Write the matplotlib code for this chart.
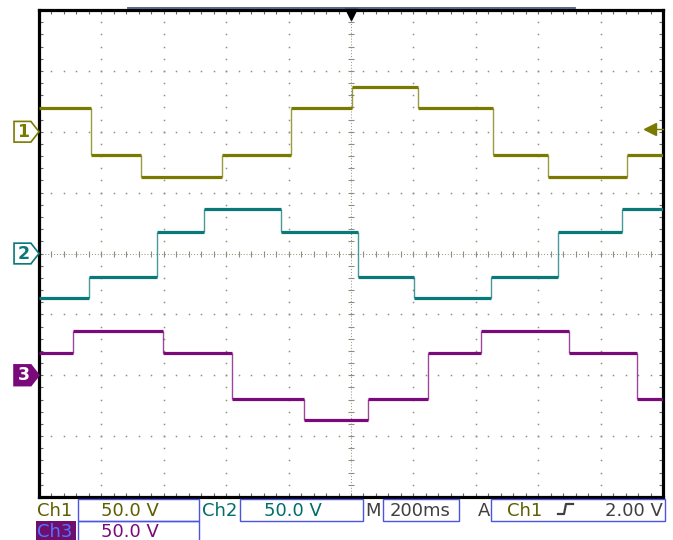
import matplotlib
matplotlib.use("Agg")
import matplotlib.pyplot as plt
from matplotlib.patches import Polygon, Rectangle
import numpy as np

# screen setup
ms_per_div = 200
volts_per_div = 50.0
n_xdiv = 10
n_ydiv = 8

# ground reference of each channel (divisions from screen centre)
ch1_offset = 2.0
ch2_offset = 0.0
ch3_offset = -2.0

# step edges (ms) and levels (V)
ch1_edges = [0, 167, 327, 587, 808, 1003, 1215, 1455, 1631, 1885, 2000]
ch1_levels = [19.7, -18.9, -36.9, -18.9, 19.7, 36.9, 19.7, -18.9, -36.9, -18.9]

ch2_edges = [0, 160, 378, 529, 776, 1022, 1202, 1449, 1663, 1869, 2000]
ch2_levels = [-36.9, -19.7, 18.0, 36.9, 18.0, -19.7, -36.9, -19.7, 18.0, 36.9]

ch3_edges = [0, 109, 397, 619, 849, 1054, 1247, 1417, 1699, 1917, 2000]
ch3_levels = [18.0, 36.1, 18.0, -19.7, -36.9, -19.7, 18.0, 36.1, 18.0, -19.7]

trigger_pos_ms = 1000
trigger_level_v = 2.0

# readout texts
ch1_scale = "50.0 V"
ch2_scale = "50.0 V"
ch3_scale = "50.0 V"
timebase = "200ms"
trig_src = "Ch1"
trig_level = "2.00 V"

c1 = "#7a7a00"
c2 = "#0a7878"
c3 = "#7a0a7a"
grid_c = "#8f8f80"

W, H = 673, 540


def fx(px):
    return px / W


def fy(py):
    return 1 - py / H


fig = plt.figure(figsize=(W / 100, H / 100), dpi=100)
ax = fig.add_axes([fx(39), fy(497), 624 / W, 487 / H])
xmax = ms_per_div * n_xdiv
ax.set_xlim(0, xmax)
ax.set_ylim(-n_ydiv / 2, n_ydiv / 2)

# graticule dots
xs_fine = np.arange(0, xmax + 1, ms_per_div / 5)
ys_fine = np.arange(-4, 4.01, 0.2)
for yl in range(-3, 4):
    if yl == 0:
        continue
    ax.plot(xs_fine, np.full_like(xs_fine, yl), ls="none", marker="s",
            ms=1.1, mew=0, color=grid_c)
for xl in np.arange(ms_per_div, xmax, ms_per_div):
    if xl == xmax / 2:
        continue
    ax.plot(np.full_like(ys_fine, xl), ys_fine, ls="none", marker="s",
            ms=1.1, mew=0, color=grid_c)

# centre lines with small ticks
ax.axhline(0, color=grid_c, lw=0.7, ls=(0, (1, 2)))
ax.axvline(xmax / 2, color=grid_c, lw=0.7, ls=(0, (1, 2)))
ax.plot(xs_fine, np.zeros_like(xs_fine), ls="none", marker="|", ms=4,
        mew=0.8, color=grid_c)
ax.plot(np.full_like(ys_fine, xmax / 2), ys_fine, ls="none", marker="_",
        ms=4, mew=0.8, color=grid_c)

# frame and border ticks
ax.set_xticks([])
ax.set_yticks([])
ax.set_xticks(xs_fine, minor=True)
ax.set_yticks(ys_fine, minor=True)
ax.tick_params(which="minor", direction="in", length=3, width=0.8,
               color="#666666", top=True, right=True,
               labelbottom=False, labelleft=False)
for sp in ax.spines.values():
    sp.set_linewidth(2.3)
    sp.set_color("black")


def draw_channel(edges, levels, offset, color):
    e = np.array(edges, dtype=float)
    y = offset + np.array(levels) / volts_per_div
    ax.hlines(y, e[:-1], e[1:], color=color, lw=2.3, zorder=3)
    ax.vlines(e[1:-1], y[:-1], y[1:], color=color, lw=1.0, alpha=0.75,
              zorder=3)


draw_channel(ch1_edges, ch1_levels, ch1_offset, c1)
draw_channel(ch2_edges, ch2_levels, ch2_offset, c2)
draw_channel(ch3_edges, ch3_levels, ch3_offset, c3)


# channel ground markers on the left
def ch_marker(offset, label, color, filled):
    hh = 0.17
    pts = [(-80, offset + hh), (-26, offset + hh), (0, offset),
           (-26, offset - hh), (-80, offset - hh)]
    poly = Polygon(pts, closed=True, clip_on=False, zorder=5,
                   facecolor=color if filled else "white",
                   edgecolor=color, lw=1.2)
    ax.add_patch(poly)
    ax.text(-50, offset, label, ha="center", va="center", fontsize=12.5,
            color="white" if filled else color, fontweight="bold",
            clip_on=False, zorder=6)


ch_marker(ch1_offset, "1", c1, False)
ch_marker(ch2_offset, "2", c2, False)
ch_marker(ch3_offset, "3", c3, True)

# trigger level arrow (right) and trigger position (top)
trig_y = ch1_offset + trigger_level_v / volts_per_div
ax.plot([xmax - 42], [trig_y], marker="<", ms=8.5, color=c1, clip_on=False,
        zorder=6)
ax.plot([xmax - 25, xmax], [trig_y, trig_y], color=c1, lw=1.0,
        clip_on=False, zorder=6)
ax.plot([trigger_pos_ms], [n_ydiv / 2 - 0.06], marker="v", ms=8,
        color="black", clip_on=False, zorder=6)

# record window bar above the screen
fig.add_artist(plt.Line2D([fx(128), fx(575)], [fy(7.5), fy(7.5)],
                          color="#4a5a80", lw=1.3))

# readout area
box_c = "#4b55dd"
fs = 13


def box(x0, x1, y0, y1):
    fig.add_artist(Rectangle((fx(x0), fy(y1)), fx(x1) - fx(x0),
                             fy(y0) - fy(y1), fill=False, edgecolor=box_c,
                             lw=1.0, transform=fig.transFigure))


# row 1
fig.text(fx(37), fy(516), "Ch1", color="#5e5e00", fontsize=fs, va="baseline")
box(78, 199, 499, 521)
fig.text(fx(130), fy(516), ch1_scale, color="#5e5e00", fontsize=fs,
         ha="center", va="baseline")
fig.text(fx(202), fy(516), "Ch2", color="#006c6c", fontsize=fs,
         va="baseline")
box(240, 363, 499, 521)
fig.text(fx(293), fy(516), ch2_scale, color="#006c6c", fontsize=fs,
         ha="center", va="baseline")
fig.text(fx(365), fy(516), "M", color="#404040", fontsize=fs, va="baseline")
box(383, 459, 499, 521)
fig.text(fx(420), fy(516), timebase, color="#404040", fontsize=fs,
         ha="center", va="baseline")
fig.text(fx(478), fy(516), "A", color="#404040", fontsize=fs, va="baseline")
box(491, 665, 499, 521)
fig.text(fx(507), fy(516), trig_src, color="#5e5e00", fontsize=fs,
         va="baseline")
# rising edge symbol
fig.add_artist(plt.Line2D([fx(558), fx(564), fx(566), fx(573)],
                          [fy(514), fy(514), fy(504), fy(504)],
                          color="#404040", lw=1.6))
fig.text(fx(663), fy(516), trig_level, color="#404040", fontsize=fs,
         ha="right", va="baseline")

# row 2
fig.add_artist(Rectangle((fx(36), fy(541)), fx(76) - fx(36),
                         fy(521) - fy(541), facecolor="#6e0e6e",
                         edgecolor="none", transform=fig.transFigure))
fig.text(fx(37), fy(537), "Ch3", color="#5575ff", fontsize=fs,
         va="baseline")
box(78, 199, 521, 541)
fig.text(fx(130), fy(537), ch3_scale, color=c3, fontsize=fs, ha="center",
         va="baseline")

fig.savefig("out.png", dpi=100, facecolor="white")
